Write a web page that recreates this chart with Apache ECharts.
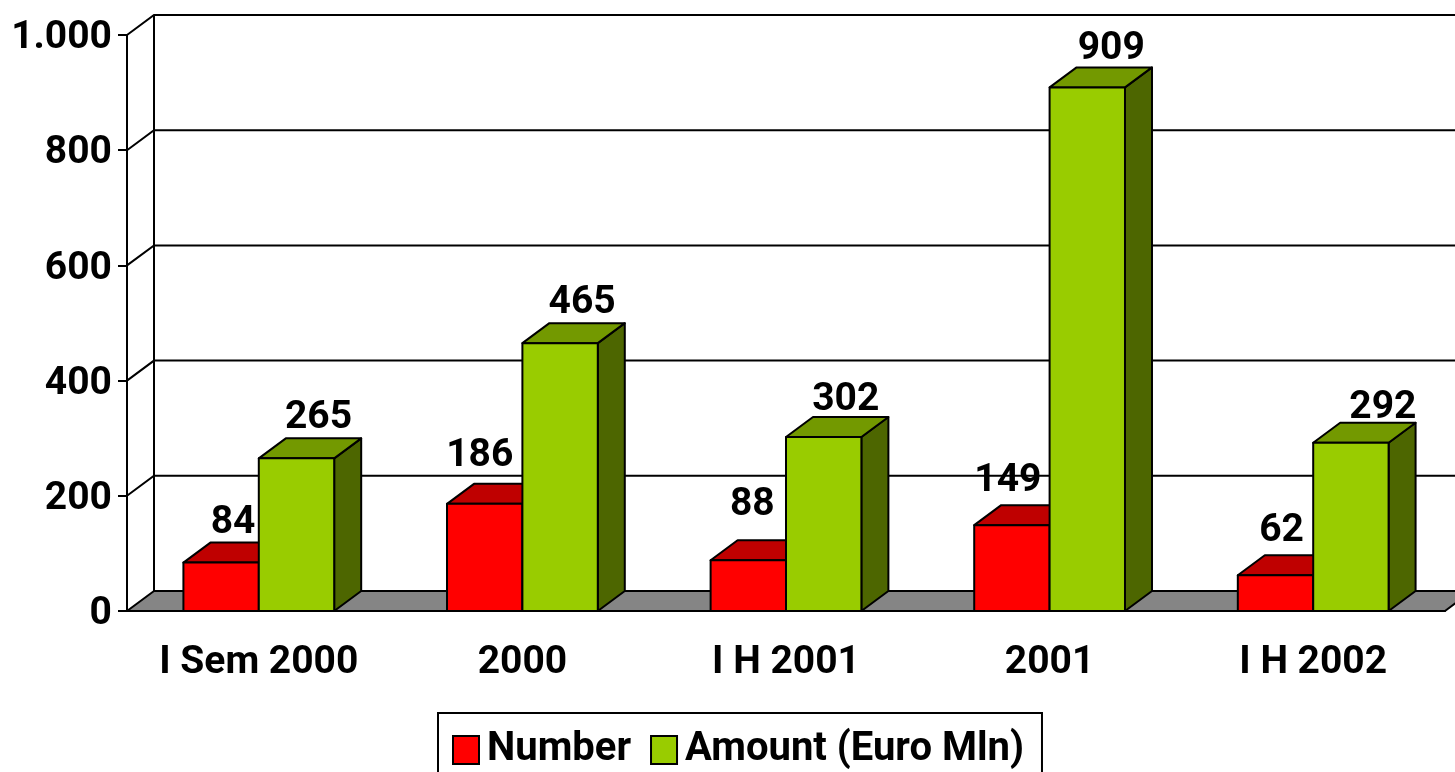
<!DOCTYPE html>
<html>
<head>
<meta charset="utf-8">
<style>
  html, body { margin: 0; padding: 0; background: #fff; overflow: hidden; }
  #chart { width: 1455px; height: 772px; }
</style>
<script src="https://cdn.jsdelivr.net/npm/echarts@6/dist/echarts.min.js"></script>
</head>
<body>
<div id="chart"></div>
<script>
const categories = ['I Sem 2000', '2000', 'I H 2001', '2001', 'I H 2002']
const numberValues = [84, 186, 88, 149, 62]
const amountValues = [265, 465, 302, 909, 292]
const yTicks = [200, 400, 600, 800, 1000]

// hand placed labels in the original, so they get nudged one by one [dx, dy]
const numberNudge = [[12, -19], [-5, -28], [4, -35], [-4, -24], [6, -24]]
const amountNudge = [[22, -20], [22, -20], [22, -17], [24, -18], [32, -15]]

const DEPTH_X = 27
const DEPTH_Y = 20
const LINE = { stroke: '#000', lineWidth: 2, fill: null }
const FAMILY = 'Roboto'
const FONT_SIZE = 39
const FONT = `bold ${FONT_SIZE}px ${FAMILY}`

const chart = echarts.init(document.getElementById('chart'))

function poly(points, fill) {
  return {
    type: 'polygon',
    shape: { points },
    style: { fill, stroke: '#000', lineWidth: 2, lineJoin: 'round' }
  }
}

function barItem(side, colors, nudge) {
  return function (params, api) {
    const i = api.value(0)
    const band = api.size([1, 0])[0]
    const w = band * 0.286
    const center = api.coord([i, 0])[0]
    const x0 = side < 0 ? center - w : center
    const x1 = x0 + w
    const yb = api.coord([i, 0])[1]
    const yt = api.coord([i, api.value(1)])[1]
    const n = nudge[i]
    return {
      type: 'group',
      children: [
        poly([[x1, yb], [x1 + DEPTH_X, yb - DEPTH_Y], [x1 + DEPTH_X, yt - DEPTH_Y], [x1, yt]], colors.side),
        poly([[x0, yt], [x1, yt], [x1 + DEPTH_X, yt - DEPTH_Y], [x0 + DEPTH_X, yt - DEPTH_Y]], colors.top),
        poly([[x0, yb], [x1, yb], [x1, yt], [x0, yt]], colors.front),
        {
          type: 'text',
          z2: 10,
          style: {
            text: String(api.value(1)),
            x: (x0 + x1) / 2 + n[0],
            y: yt - DEPTH_Y + n[1],
            font: FONT,
            fill: '#000',
            align: 'center',
            verticalAlign: 'middle'
          }
        }
      ]
    }
  }
}

function wallItem(params, api) {
  const sys = params.coordSys
  const y = api.coord([0, api.value(0)])[1]
  return {
    type: 'polyline',
    shape: { points: [[sys.x, y], [sys.x + DEPTH_X, y - DEPTH_Y], [sys.x + sys.width + DEPTH_X, y - DEPTH_Y]] },
    style: LINE
  }
}

function floorItem(params, api) {
  const sys = params.coordSys
  const yb = api.coord([0, 0])[1]
  const xl = sys.x
  const xr = sys.x + sys.width
  return {
    type: 'group',
    children: [
      poly([[xl, yb], [xr, yb], [xr + DEPTH_X, yb - DEPTH_Y], [xl + DEPTH_X, yb - DEPTH_Y]], '#858585'),
      {
        type: 'line',
        shape: { x1: xl + DEPTH_X, y1: yb - DEPTH_Y, x2: xl + DEPTH_X, y2: sys.y - DEPTH_Y },
        style: LINE
      }
    ]
  }
}

const option = {
  animation: false,
  backgroundColor: '#fff',
  textStyle: { fontFamily: FAMILY },
  grid: { left: 127, right: 10, top: 35, bottom: 161 },
  legend: {
    data: ['Number', 'Amount (Euro Mln)'],
    left: 438,
    top: 713,
    orient: 'horizontal',
    icon: 'rect',
    itemWidth: 26,
    itemHeight: 28,
    itemGap: 19,
    padding: [17, 18, 25, 14],
    borderColor: '#000',
    borderWidth: 2,
    textStyle: { color: '#000', fontSize: 40, fontWeight: 'bold', fontFamily: FAMILY, padding: [0, 0, 0, 3] }
  },
  xAxis: {
    type: 'category',
    data: categories,
    axisLine: { lineStyle: { color: '#000', width: 2 } },
    axisTick: { length: 9, lineStyle: { color: '#000', width: 2 } },
    axisLabel: { color: '#000', fontSize: FONT_SIZE, fontWeight: 'bold', fontFamily: FAMILY, margin: 33, interval: 0 }
  },
  yAxis: {
    type: 'value',
    min: 0,
    max: 1000,
    interval: 200,
    splitLine: { show: false },
    axisLine: { show: true, lineStyle: { color: '#000', width: 2 } },
    axisTick: { show: true, length: 9, lineStyle: { color: '#000', width: 2 } },
    axisLabel: {
      color: '#000',
      fontSize: FONT_SIZE,
      fontWeight: 'bold',
      fontFamily: FAMILY,
      margin: 15,
      verticalAlign: 'top',
      padding: [-16, 0, 0, 0],
      formatter: v => (v === 1000 ? '1.000' : String(v))
    }
  },
  series: [
    { type: 'custom', name: 'wall', renderItem: wallItem, data: yTicks.map(v => [v]), encode: { y: 0 }, silent: true, z: 1 },
    { type: 'custom', name: 'floor', renderItem: floorItem, data: [[0, 0]], encode: { x: 0, y: 1 }, silent: true, z: 1 },
    {
      type: 'custom',
      name: 'Number',
      renderItem: barItem(-1, { front: '#ff0000', top: '#bf0000', side: '#800000' }, numberNudge),
      data: numberValues.map((v, i) => [i, v]),
      encode: { x: 0, y: 1 },
      itemStyle: { color: '#ff0000', borderColor: '#000', borderWidth: 2 },
      z: 2
    },
    {
      type: 'custom',
      name: 'Amount (Euro Mln)',
      renderItem: barItem(1, { front: '#99cc00', top: '#739900', side: '#4d6600' }, amountNudge),
      data: amountValues.map((v, i) => [i, v]),
      encode: { x: 0, y: 1 },
      itemStyle: { color: '#99cc00', borderColor: '#000', borderWidth: 2 },
      z: 3
    }
  ]
}

chart.setOption(option)
</script>
</body>
</html>
